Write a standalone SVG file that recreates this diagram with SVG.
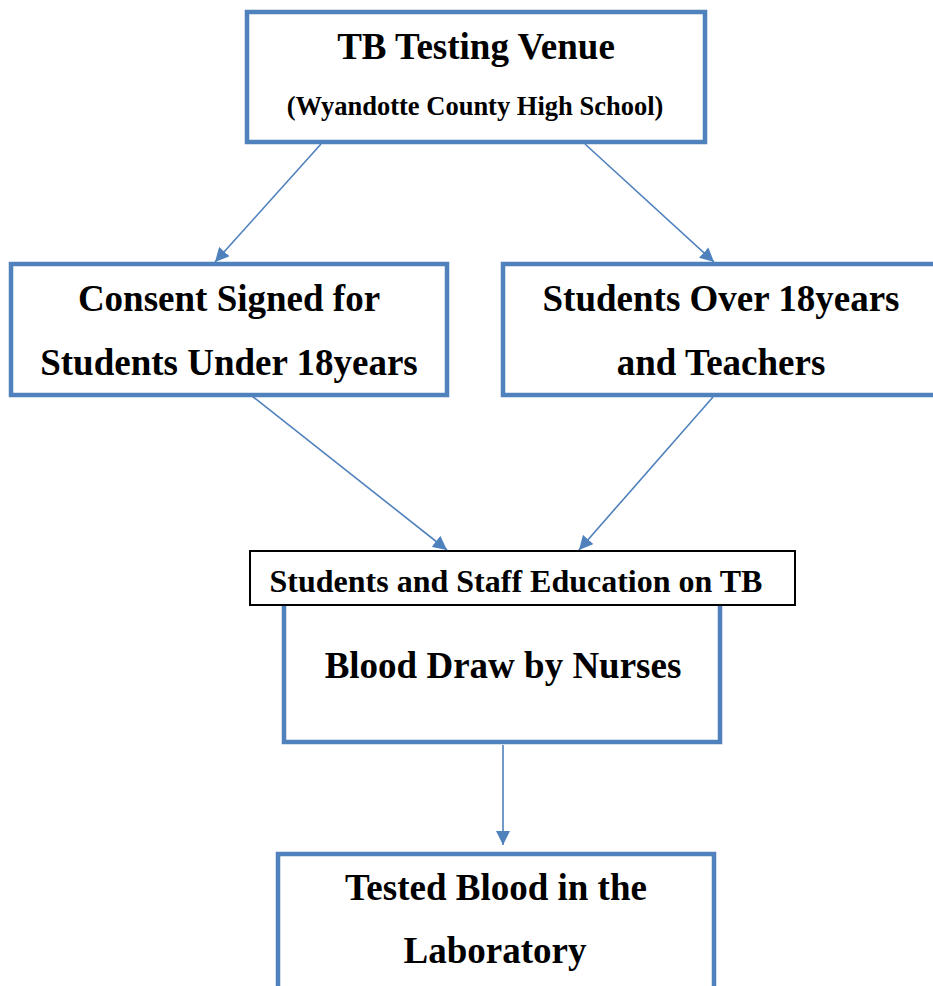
<svg xmlns="http://www.w3.org/2000/svg" width="933" height="986" viewBox="0 0 933 986">
  <style>
    .box { fill: #ffffff; stroke: #4f81bd; stroke-width: 4.5; }
    .plain { fill: #ffffff; stroke: #000000; stroke-width: 2; }
    .lbl { font-family: "Liberation Serif", "Times New Roman", serif; font-weight: bold; fill: #000000; text-anchor: middle; }
    .conn { stroke: #4f81bd; stroke-width: 1.6; fill: none; marker-end: url(#head); }
  </style>
  <defs>
    <marker id="head" viewBox="0 0 14 14" refX="14" refY="7" markerWidth="14" markerHeight="14" markerUnits="userSpaceOnUse" orient="auto">
      <path d="M0,0 L14,7 L0,14 z" fill="#4f81bd"/>
    </marker>
  </defs>

  <g id="connectors">
    <line class="conn" x1="321" y1="144" x2="215" y2="262"/>
    <line class="conn" x1="585" y1="144" x2="714" y2="262"/>
    <line class="conn" x1="252" y1="396" x2="447" y2="550"/>
    <line class="conn" x1="713" y1="397" x2="579" y2="550"/>
    <line class="conn" x1="503" y1="745" x2="503" y2="845"/>
  </g>

  <g id="venue">
    <rect class="box" x="247" y="12" width="458" height="130"/>
    <text class="lbl" x="476" y="59" font-size="37">TB Testing Venue</text>
    <text class="lbl" x="475" y="115" font-size="26.5">(Wyandotte County High School)</text>
  </g>

  <g id="consent">
    <rect class="box" x="11" y="264" width="436" height="131"/>
    <text class="lbl" x="229" y="311" font-size="37">Consent Signed for</text>
    <text class="lbl" x="229" y="375" font-size="37">Students Under 18years</text>
  </g>

  <g id="over18">
    <rect class="box" x="503" y="264" width="440" height="131"/>
    <text class="lbl" x="721" y="311" font-size="37">Students Over 18years</text>
    <text class="lbl" x="721" y="375" font-size="37">and Teachers</text>
  </g>

  <g id="blood-draw">
    <rect class="box" x="284" y="600" width="436" height="142"/>
    <text class="lbl" x="503" y="678" font-size="37">Blood Draw by Nurses</text>
  </g>

  <g id="education">
    <rect class="plain" x="250" y="551" width="545" height="54"/>
    <text class="lbl" x="516" y="592" font-size="32">Students and Staff Education on TB</text>
  </g>

  <g id="laboratory">
    <rect class="box" x="278" y="854" width="436" height="150"/>
    <text class="lbl" x="496" y="900" font-size="37">Tested Blood in the</text>
    <text class="lbl" x="495" y="963" font-size="37">Laboratory</text>
  </g>
</svg>
